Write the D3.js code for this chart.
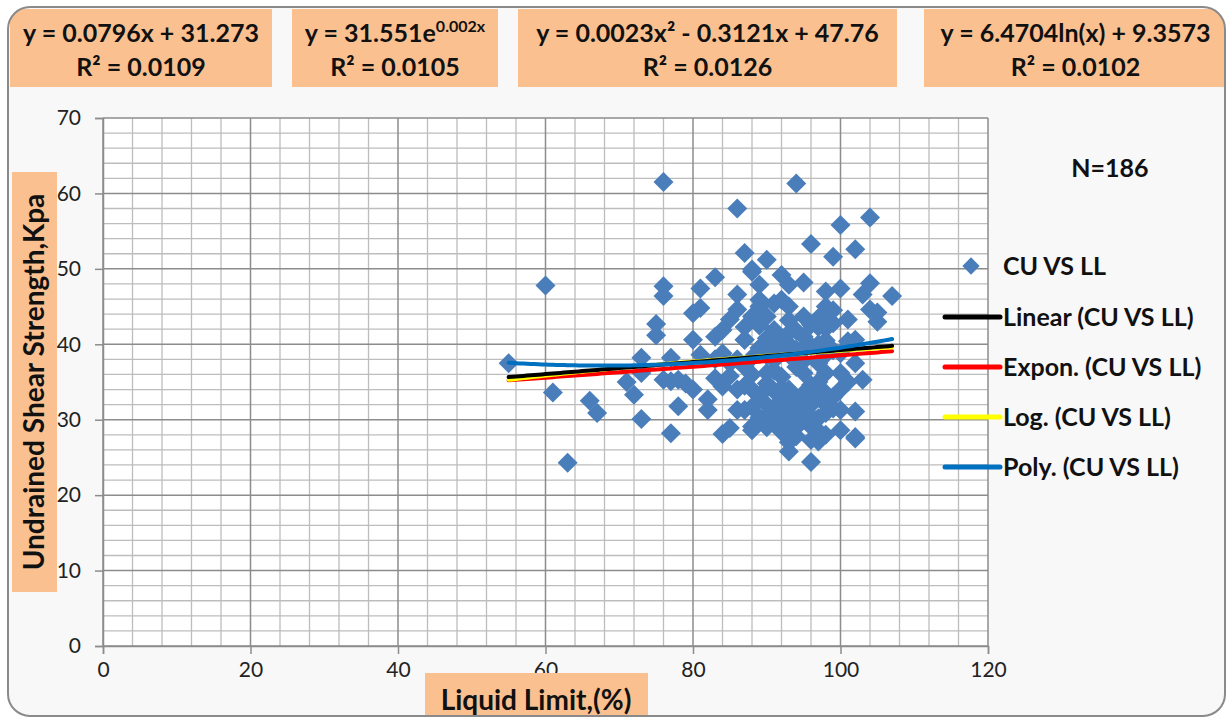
<!DOCTYPE html>
<html><head><meta charset="utf-8">
<script src="https://cdn.jsdelivr.net/npm/d3@7"></script>
<style>
html,body{margin:0;padding:0;background:#fff;}
svg{display:block;}
</style></head>
<body>
<svg id="chart" width="1229" height="720"></svg>
<script>
// ---- data ----
const xTicks = [0, 20, 40, 60, 80, 100, 120];
const yTicks = [0, 10, 20, 30, 40, 50, 60, 70];
// [Liquid Limit (%), Undrained Shear Strength (kPa)]
const cuVsLL = [
 [55,37.5],[60,47.8],[61,33.6],[63,24.3],[66,32.5],[67,30.9],[71,35.0],[72,33.3],[73,38.2],[73,36.2],
 [73,30.1],[75,42.7],[75,41.2],[76,47.7],[76,46.4],[76,61.5],[76,35.3],[77,38.2],[77,35.1],[77,28.2],
 [78,35.3],[78,31.8],[79,34.8],[80,34.0],[80,40.6],[80,44.1],[81,44.8],[81,47.4],[81,38.6],[82,32.7],
 [82,31.3],[83,48.9],[83,41.0],[83,35.5],[84,41.9],[84,38.8],[84,34.4],[84,28.1],[85,43.3],[85,37.5],
 [85,28.9],[86,58.0],[86,46.6],[86,34.0],[86,31.3],[86,44.6],[87,52.1],[88,49.6],[87,42.3],[87,40.6],
 [88,31.7],[88,28.6],
 [94,61.3],[100,55.8],[104,56.8],[96,53.3],[99,51.6],[102,52.6],[90,51.2],[88,49.9],[89,47.9],[92,49.2],
 [93,47.9],[95,48.2],[98,47.0],[100,47.4],[104,48.1],[103,46.6],[107,46.4],[104,44.6],[105,43.0],[101,43.3],
 [98,45.0],[98,42.1],[97,42.3],[92,45.9],[93,45.0],[89,45.0],[88,43.7],[90,43.7],[91,41.9],[93,41.5],
 [95,43.7],[95,41.0],[101,40.4],[102,40.6],[102,37.5],[103,35.3],[102,31.1],[102,27.7],[100,28.6],[96,24.4],
 [93,25.8],[96,27.3],[98,30.9],[98,33.5],[98,36.2],[100,36.2],[97,37.5],[95,36.2],[95,33.5],[94,30.9],
 [92,32.6],[91,29.5],[88,29.1],[96,29.1],[92,35.7],[90,36.2],[88,34.0],[87,31.3],[91,37.9],[89,39.5],
 [87,40.6],[93,43.2],[91,45.4],[89,45.9],[97,27.1],[102,27.5],[105,44.2],
 [89,42.5],[90,40.8],[90,38.5],[90,34.8],[90,32.0],[90,30.5],[90,29.0],
 [91,40.0],[91,36.5],[91,33.8],[91,31.5],
 [92,40.5],[92,39.0],[92,34.2],[92,31.0],[92,29.8],[92,28.4],
 [93,40.0],[93,38.6],[93,34.0],[93,32.0],[93,29.5],[93,27.0],
 [94,41.8],[94,39.3],[94,32.8],[94,29.0],[94,27.8],
 [95,39.5],[95,37.8],[95,31.8],[95,30.0],
 [96,42.6],[96,39.8],[96,34.6],[96,32.0],[96,30.5],
 [97,43.5],[97,40.0],[97,35.0],[97,33.0],[97,30.2],[97,28.5],
 [98,43.8],[98,40.5],[98,38.6],[98,32.0],[98,28.0],
 [99,42.8],[99,39.2],[99,33.0],[99,31.5],
 [100,38.8],[100,34.0],[100,31.3],
 [89,33.2],[89,30.3],[88,38.2],[88,36.0],[87,37.0],[86,38.0],
 [85,35.8],[87,34.5],[99,44.5],[101,35.0],[94,37.0],[83,38.0]
];
const trendNames = ["Linear (CU VS LL)", "Expon. (CU VS LL)", "Log. (CU VS LL)", "Poly. (CU VS LL)"];
const trendColors = ["#000000", "#ff0000", "#ffff00", "#0070c0"];
const linearCoef = [0.0796, 31.273];
const exponCoef = [31.551, 0.002];
const logCoef = [6.4704, 9.3573];
const polyCoef = [0.0023, -0.3121, 47.76];
const eqLines1 = ["y = 0.0796x + 31.273", "y = 31.551e", "y = 0.0023x² - 0.3121x + 47.76", "y = 6.4704ln(x) + 9.3573"];
const eqLines2 = ["R² = 0.0109", "R² = 0.0105", "R² = 0.0126", "R² = 0.0102"];
const seriesName = "CU VS LL";
const nLabel = "N=186";
const xTitle = "Liquid Limit,(%)";
const yTitle = "Undrained Shear Strength,Kpa";

// ---- drawing ----
const svg = d3.select("#chart");
const FONT = "Lato, 'Open Sans', sans-serif";

svg.append("defs").append("clipPath").attr("id","outer")
  .append("rect").attr("x",8).attr("y",7).attr("width",1217).attr("height",709).attr("rx",22);
svg.append("rect").attr("x",8).attr("y",7).attr("width",1217).attr("height",709).attr("rx",22)
  .attr("fill","#f8f8f8");

const x = d3.scaleLinear().domain([0,120]).range([103,988]);
const y = d3.scaleLinear().domain([0,70]).range([646,118]);

svg.append("rect").attr("x",x(0)).attr("y",y(70)).attr("width",x(120)-x(0)).attr("height",y(0)-y(70)).attr("fill","#ffffff");

// minor grid
const g = svg.append("g");
g.append("g").selectAll("line").data(d3.range(0,121,4).filter(v=>v%20!==0)).join("line")
  .attr("x1",d=>x(d)).attr("x2",d=>x(d)).attr("y1",y(0)).attr("y2",y(70))
  .attr("stroke","#bdbdbd").attr("stroke-width",1.3);
g.append("g").selectAll("line").data(d3.range(0,71,2).filter(v=>v%10!==0)).join("line")
  .attr("y1",d=>y(d)).attr("y2",d=>y(d)).attr("x1",x(0)).attr("x2",x(120))
  .attr("stroke","#bdbdbd").attr("stroke-width",1.3);
// major grid
g.append("g").selectAll("line").data(xTicks).join("line")
  .attr("x1",d=>x(d)).attr("x2",d=>x(d)).attr("y1",y(0)).attr("y2",y(70))
  .attr("stroke","#8c8c8c").attr("stroke-width",1.5);
g.append("g").selectAll("line").data(yTicks).join("line")
  .attr("y1",d=>y(d)).attr("y2",d=>y(d)).attr("x1",x(0)).attr("x2",x(120))
  .attr("stroke","#8c8c8c").attr("stroke-width",1.5);

// axes
const xAxis = svg.append("g").attr("transform",`translate(0,${y(0)})`)
  .call(d3.axisBottom(x).tickValues(xTicks).tickSize(8).tickPadding(8).tickFormat(d3.format("d")));
const yAxis = svg.append("g").attr("transform",`translate(${x(0)},0)`)
  .call(d3.axisLeft(y).tickValues(yTicks).tickSize(8).tickPadding(14).tickFormat(d3.format("d")));
[xAxis,yAxis].forEach(a=>{
  a.select(".domain").attr("stroke","#8c8c8c").attr("stroke-width",1.5);
  a.selectAll(".tick line").attr("stroke","#8c8c8c").attr("stroke-width",1.5);
  a.selectAll("text").attr("font-family",FONT).attr("font-size",21).attr("fill","#222");
});

// points
svg.append("g").selectAll("path").data(cuVsLL).join("path")
  .attr("d", d3.symbol().type(d3.symbolSquare).size(200))
  .attr("transform",d=>`translate(${x(d[0])},${y(d[1])}) rotate(45)`)
  .attr("fill","#4a7ebb");

// trend lines
const xmin = d3.min(cuVsLL, d=>d[0]), xmax = d3.max(cuVsLL, d=>d[0]);
const xs = d3.range(xmin, xmax+0.001, 0.5);
const fns = [
  v=>linearCoef[0]*v+linearCoef[1],
  v=>exponCoef[0]*Math.exp(exponCoef[1]*v),
  v=>logCoef[0]*Math.log(v)+logCoef[1],
  v=>polyCoef[0]*v*v+polyCoef[1]*v+polyCoef[2]
];
const line = d3.line().x(d=>x(d[0])).y(d=>y(d[1]));
[1,2,0,3].forEach(i=>{
  svg.append("path").datum(xs.map(v=>[v,fns[i](v)]))
    .attr("d",line).attr("fill","none").attr("stroke",trendColors[i])
    .attr("stroke-width",4).attr("stroke-linecap","round");
});

// equation boxes
const boxes = [[10,272],[292,498],[518,897],[924,1227]];
const eg = svg.append("g").attr("clip-path","url(#outer)");
boxes.forEach((b,i)=>{
  eg.append("rect").attr("x",b[0]).attr("y",9).attr("width",b[1]-b[0]).attr("height",78).attr("fill","#fac090");
  const cx = (b[0]+b[1])/2;
  const t1 = eg.append("text").attr("x",cx).attr("y",42).attr("text-anchor","middle")
    .attr("font-family",FONT).attr("font-weight","bold").attr("font-size",25).attr("fill","#111");
  t1.append("tspan").text(eqLines1[i]);
  if(i===1){
    t1.append("tspan").attr("dy",-10).attr("font-size",16).text(exponCoef[1]+"x");
  }
  eg.append("text").attr("x",cx).attr("y",76).attr("text-anchor","middle")
    .attr("font-family",FONT).attr("font-weight","bold").attr("font-size",25).attr("fill","#111")
    .text(eqLines2[i]);
});

// axis title boxes
svg.append("rect").attr("x",12).attr("y",172).attr("width",45).attr("height",420).attr("fill","#fac090");
svg.append("text").attr("transform","translate(44,382) rotate(-90)").attr("text-anchor","middle")
  .attr("font-family",FONT).attr("font-weight","bold").attr("font-size",28).attr("fill","#111").text(yTitle);
eg.append("rect").attr("x",425).attr("y",673).attr("width",223).attr("height",50).attr("fill","#fac090");
svg.append("text").attr("x",536).attr("y",710).attr("text-anchor","middle")
  .attr("font-family",FONT).attr("font-weight","bold").attr("font-size",28).attr("fill","#111").text(xTitle);

// N label
svg.append("text").attr("x",1110).attr("y",177).attr("text-anchor","middle")
  .attr("font-family",FONT).attr("font-weight","bold").attr("font-size",25).attr("fill","#111").text(nLabel);

// legend
const lg = svg.append("g");
lg.append("path").attr("d", d3.symbol().type(d3.symbolSquare).size(150))
  .attr("transform","translate(971,266) rotate(45)").attr("fill","#4a7ebb");
lg.append("text").attr("x",1003).attr("y",275).attr("font-family",FONT).attr("font-weight","bold")
  .attr("font-size",25).attr("fill","#111").text(seriesName);
trendNames.forEach((nm,i)=>{
  const yy = 317 + i*50;
  lg.append("line").attr("x1",945).attr("x2",1000).attr("y1",yy).attr("y2",yy)
    .attr("stroke",trendColors[i]).attr("stroke-width",5).attr("stroke-linecap","round");
  lg.append("text").attr("x",1003).attr("y",yy+9).attr("font-family",FONT).attr("font-weight","bold")
    .attr("font-size",25).attr("fill","#111").text(nm);
});

// outer border
svg.append("rect").attr("x",8).attr("y",7).attr("width",1217).attr("height",709).attr("rx",22)
  .attr("fill","none").attr("stroke","#8a8a8a").attr("stroke-width",2);
</script>
</body></html>
